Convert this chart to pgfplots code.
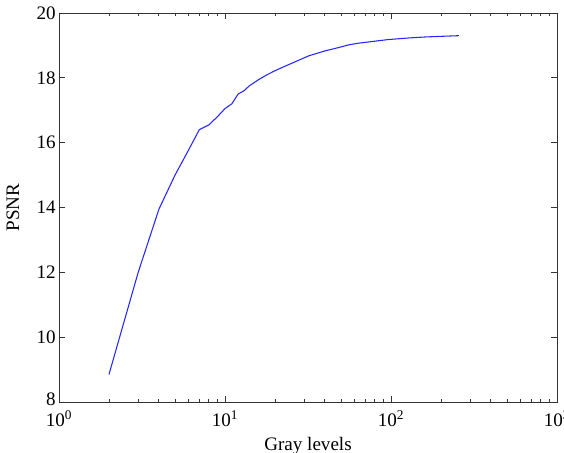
\documentclass[border=0pt]{standalone}
\usepackage{pgfplots}
\pgfplotsset{compat=1.18}
\usepackage{fontspec}
\setmainfont{Liberation Serif}
\begin{document}
\begin{tikzpicture}
\begin{axis}[name=ax, scale only axis, width=373.5pt, height=291.75pt,
  xmode=log, xmin=1, xmax=1000, ymin=8, ymax=20,
  xtick={1,10,100,1000},
  xticklabels={10\textsuperscript{0},10\textsuperscript{1},10\textsuperscript{2},10\textsuperscript{3}},
  ytick={8,10,...,20},
  yticklabels={\raisebox{4.5pt}{8},10,12,14,16,18,20},
  tick label style={font=\fontsize{14.3}{16}\selectfont},
  xticklabel style={yshift=-3pt},
  yticklabel style={xshift=1pt},
  label style={font=\fontsize{14.3}{16}\selectfont},
  xlabel={Gray levels}, ylabel={PSNR},
  xlabel style={yshift=-1pt}, ylabel style={yshift=6pt},
  tick align=inside, major tick length=4.5pt, minor tick length=2.5pt,
  axis line style={black!80, line width=0.7pt}, tick style={black!80, line width=0.7pt}]
\addplot[blue!85!white, line width=0.8pt] coordinates {
(2,8.85) (3,12.0) (4,13.95) (5,15.0) (6,15.75) (7,16.4) (8,16.55) (9,16.8)
(10,17.05) (11,17.2) (12,17.5) (13,17.6) (14,17.75) (16,17.95) (18,18.1)
(20,18.22) (24,18.4) (28,18.55) (32,18.68) (40,18.83) (48,18.93) (56,19.02)
(64,19.07) (80,19.13) (96,19.18) (128,19.23) (160,19.26) (200,19.28) (256,19.3)};
\end{axis}
\pgfresetboundingbox
\path[use as bounding box] ([xshift=-44.25pt,yshift=-38.25pt]ax.south west) rectangle ([xshift=5.25pt,yshift=9.75pt]ax.north east);
\end{tikzpicture}
\end{document}
